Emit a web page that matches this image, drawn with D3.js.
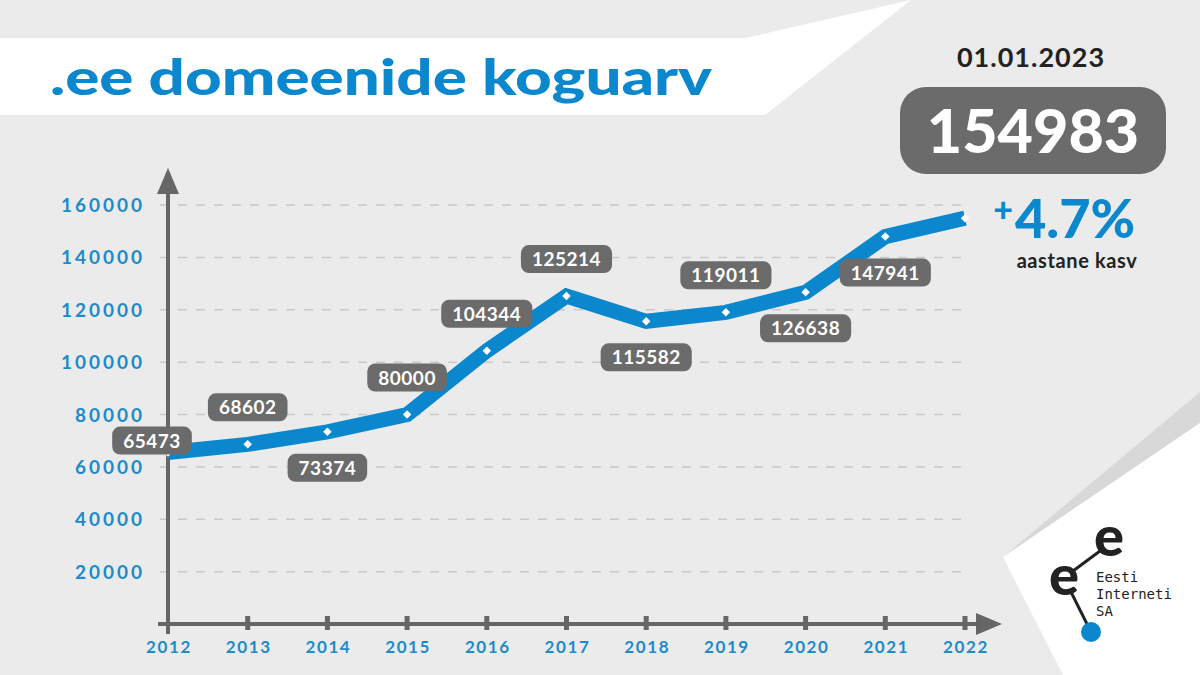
<!DOCTYPE html>
<html>
<head>
<meta charset="utf-8">
<script src="https://cdn.jsdelivr.net/npm/d3@7"></script>
<style>
  body { margin: 0; background: #ebebeb; }
  svg { display: block; font-family: Lato, "Open Sans", sans-serif; }
</style>
</head>
<body>
<div id="chart"></div>
<script>
// data
const years = [2012, 2013, 2014, 2015, 2016, 2017, 2018, 2019, 2020, 2021, 2022];
const domains = [65473, 68602, 73374, 80000, 104344, 125214, 115582, 119011, 126638, 147941, 154983];
const labelSide = ['start', 'above', 'below', 'above', 'above', 'above', 'below', 'above', 'below', 'below', 'none'];
const yTicks = [20000, 40000, 60000, 80000, 100000, 120000, 140000, 160000];
const title = '.ee domeenide koguarv';
const dateText = '01.01.2023';
const totalText = '154983';
const growthText = '4.7%';
const growthLabel = 'aastane kasv';
const logoWords = ['Eesti', 'Interneti', 'SA'];

const W = 1200, H = 675;
const blue = '#0a87cd', grey = '#6b6b6b', axisGrey = '#666666';

const svg = d3.select('#chart').append('svg')
  .attr('width', W).attr('height', H);

svg.append('rect').attr('width', W).attr('height', H).attr('fill', '#ebebeb');

// title band
svg.append('polygon')
  .attr('points', '0,38 746,38 911,0 765,115 0,115')
  .attr('fill', '#ffffff');
svg.append('text')
  .attr('x', 50).attr('y', 95)
  .attr('fill', blue)
  .style('font-size', '50px')
  .style('font-weight', 900)
  .attr('textLength', 662)
  .attr('lengthAdjust', 'spacingAndGlyphs')
  .text(title);

// logo corner
svg.append('polygon')
  .attr('points', '1003,557 1200,392 1200,423')
  .attr('fill', '#d8d8d8');
svg.append('polygon')
  .attr('points', '1003,557 1200,423 1200,675 1063,675')
  .attr('fill', '#ffffff');

const logo = svg.append('g');
logo.append('line').attr('x1', 1073).attr('y1', 571).attr('x2', 1100).attr('y2', 551)
  .attr('stroke', '#222').attr('stroke-width', 3);
logo.append('line').attr('x1', 1071).attr('y1', 592).attr('x2', 1090).attr('y2', 630)
  .attr('stroke', '#222').attr('stroke-width', 3);
logo.append('circle').attr('cx', 1091).attr('cy', 632).attr('r', 10).attr('fill', blue);
logo.append('text').attr('x', 1064).attr('y', 595).attr('text-anchor', 'middle')
  .attr('fill', '#222').style('font-size', '56px').style('font-weight', 900)
  .text('e');
logo.append('text').attr('x', 1109).attr('y', 556).attr('text-anchor', 'middle')
  .attr('fill', '#222').style('font-size', '56px').style('font-weight', 900)
  .text('e');
logo.selectAll('.logo-word')
  .data(logoWords)
  .join('text')
  .attr('class', 'logo-word')
  .attr('x', 1096)
  .attr('y', (d, i) => 582 + i * 17)
  .attr('fill', '#222')
  .style('font-family', '"DejaVu Sans Mono", monospace')
  .style('font-size', '14px')
  .text(d => d);

// scales
const x = d3.scaleLinear().domain([2012, 2022]).range([168, 965]);
const y = d3.scaleLinear().domain([0, 160000]).range([624, 205]);

// gridlines
svg.append('g').selectAll('line')
  .data(yTicks)
  .join('line')
  .attr('x1', 160).attr('x2', 968)
  .attr('y1', d => y(d)).attr('y2', d => y(d))
  .attr('stroke', '#c9c9c9')
  .attr('stroke-width', 1.5)
  .attr('stroke-dasharray', '9,9');

// y tick labels
svg.append('g').selectAll('text')
  .data(yTicks)
  .join('text')
  .attr('x', 145)
  .attr('y', d => y(d) + 7)
  .attr('text-anchor', 'end')
  .attr('fill', '#1b8bcb')
  .style('font-size', '19px')
  .style('font-weight', 700)
  .attr('letter-spacing', '3')
  .text(d => d);

// axes
svg.append('line').attr('x1', x(2012)).attr('x2', x(2012)).attr('y1', 634).attr('y2', 192)
  .attr('stroke', axisGrey).attr('stroke-width', 4);
svg.append('path')
  .attr('d', `M${x(2012)},168 L${x(2012) + 11},194 L${x(2012) - 11},194 Z`)
  .attr('fill', axisGrey);
svg.append('line').attr('x1', 158).attr('x2', 978).attr('y1', y(0)).attr('y2', y(0))
  .attr('stroke', axisGrey).attr('stroke-width', 4);
svg.append('path')
  .attr('d', `M1002,${y(0)} L976,${y(0) - 11} L976,${y(0) + 11} Z`)
  .attr('fill', axisGrey);
svg.append('g').selectAll('rect')
  .data(years.slice(1))
  .join('rect')
  .attr('x', d => x(d) - 2.5)
  .attr('y', y(0) - 8)
  .attr('width', 5)
  .attr('height', 14)
  .attr('fill', axisGrey);

// x tick labels
svg.append('g').selectAll('text')
  .data(years)
  .join('text')
  .attr('x', d => x(d) + 1)
  .attr('y', 653)
  .attr('text-anchor', 'middle')
  .attr('fill', '#1b8bcb')
  .style('font-size', '17px')
  .style('font-weight', 700)
  .attr('letter-spacing', '1.6')
  .text(d => d);

// line
const points = years.map((yr, i) => ({year: yr, value: domains[i], side: labelSide[i]}));
svg.append('path')
  .datum(points)
  .attr('d', d3.line().x(d => x(d.year)).y(d => y(d.value)))
  .attr('fill', 'none')
  .attr('stroke', blue)
  .attr('stroke-width', 15)
  .attr('stroke-linejoin', 'miter');

svg.append('g').selectAll('rect')
  .data(points)
  .join('rect')
  .attr('x', -3).attr('y', -3)
  .attr('width', 6).attr('height', 6)
  .attr('transform', d => `translate(${x(d.year)},${y(d.value)}) rotate(45)`)
  .attr('fill', '#ffffff');

// value labels
const labels = svg.append('g').selectAll('g')
  .data(points.filter(d => d.side !== 'none'))
  .join('g')
  .attr('transform', d => {
    let cx = x(d.year), cy = y(d.value);
    if (d.side === 'above') cy -= 37;
    if (d.side === 'below') cy += 36;
    if (d.side === 'start') { cx -= 16; cy -= 12; }
    return `translate(${cx},${cy})`;
  });
labels.append('text')
  .attr('text-anchor', 'middle')
  .attr('y', 7)
  .attr('fill', '#ffffff')
  .style('font-size', '19px')
  .style('font-weight', 700)
  .attr('letter-spacing', '0.5')
  .text(d => d.value);
labels.each(function() {
  const g = d3.select(this);
  const w = g.select('text').node().getComputedTextLength() + 22;
  g.insert('rect', 'text')
    .attr('x', -w / 2).attr('y', -14)
    .attr('width', w).attr('height', 28)
    .attr('rx', 8)
    .attr('fill', grey);
});

// summary panel
svg.append('text')
  .attr('x', 1031).attr('y', 67)
  .attr('text-anchor', 'middle')
  .attr('fill', '#222')
  .style('font-size', '27px')
  .style('font-weight', 700)
  .attr('letter-spacing', '1')
  .text(dateText);
svg.append('rect')
  .attr('x', 900).attr('y', 87)
  .attr('width', 266).attr('height', 87)
  .attr('rx', 26)
  .attr('fill', grey);
svg.append('text')
  .attr('x', 1033).attr('y', 153)
  .attr('text-anchor', 'middle')
  .attr('fill', '#ffffff')
  .style('font-size', '61px')
  .style('font-weight', 900)
  .text(totalText);
svg.append('text')
  .attr('x', 1003).attr('y', 222)
  .attr('text-anchor', 'middle')
  .attr('fill', blue)
  .style('font-size', '34px')
  .style('font-weight', 900)
  .text('+');
svg.append('text')
  .attr('x', 1015).attr('y', 238)
  .attr('fill', blue)
  .style('font-size', '54px')
  .style('font-weight', 900)
  .text(growthText);
svg.append('text')
  .attr('x', 1077).attr('y', 268)
  .attr('text-anchor', 'middle')
  .attr('fill', '#222')
  .style('font-size', '20px')
  .style('font-weight', 700)
  .attr('letter-spacing', '0.6')
  .text(growthLabel);
</script>
</body>
</html>
